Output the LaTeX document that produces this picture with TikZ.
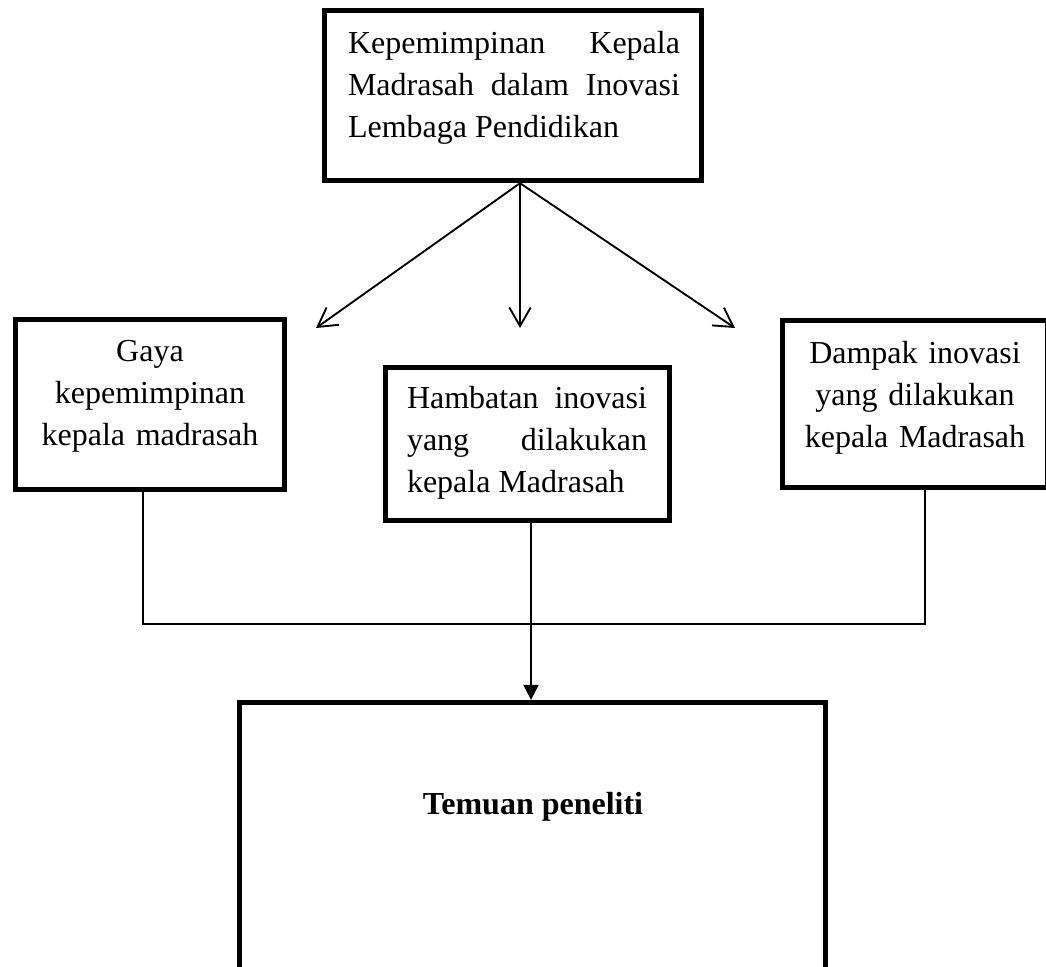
\documentclass[tikz,border=0pt]{standalone}
\usepackage{fontspec}
\setmainfont{Liberation Serif}
\usetikzlibrary{arrows.meta}
\hyphenpenalty=10000
\tolerance=10000

\begin{document}
\begin{tikzpicture}[
        x=0.375pt, y=-0.375pt,
        box/.style={draw, line width=2pt, inner sep=0pt},
        boxtext/.style={inner sep=0pt, anchor=north, font=\fontsize{12pt}{15.75pt}\selectfont},
        arrowline/.style={line width=0.7pt, -{Straight Barb[length=7pt, width=8pt]}},
        joinline/.style={line width=0.6pt},
        mainarrow/.style={line width=0.75pt, -{Triangle[length=5.6pt, width=5.6pt]}}
      ]
        \useasboundingbox (0,0) rectangle (1046,966);

        % boxes
        \node[box, minimum width=141.375pt, minimum height=63.75pt] (kepala) at (513,95.5) {};
        \node[box, minimum width=100.875pt, minimum height=63.75pt] (gaya) at (150,404.5) {};
        \node[box, minimum width=106.5pt, minimum height=57.375pt] (hambatan) at (527.5,444) {};
        \node[box, minimum width=99.375pt, minimum height=62.625pt] (dampak) at (915,404) {};
        \node[box, minimum width=219.75pt, minimum height=107.8pt] (temuan) at (532.5,846.25) {};

        % texts
        \node[boxtext, text width=124.5pt, align=justify] (kepalatext) at (514,31) {Kepemimpinan Kepala Madrasah dalam Inovasi Lembaga Pendidikan};
        \node[boxtext, text width=100pt, align=center] (gayatext) at (150,340) {Gaya\\kepemimpinan\\kepala madrasah};
        \node[boxtext, text width=90pt, align=justify] (hambatantext) at (527,386) {Hambatan inovasi yang dilakukan kepala Madrasah};
        \node[boxtext, text width=100pt, align=center] (dampaktext) at (915,341) {Dampak inovasi\\yang dilakukan\\kepala Madrasah};
        \node[boxtext, anchor=base, font=\fontsize{12pt}{15.75pt}\selectfont\bfseries] (temuantext) at (533,814) {Temuan peneliti};

        % connectors
        \coordinate (tipL) at (316,328);
        \coordinate (tipM) at (520,328);
        \coordinate (tipR) at (735,328);
        \coordinate (joinL) at (143,624);
        \coordinate (merge) at (531,624);
        \coordinate (joinR) at (925,624);

        \draw[arrowline] (kepala.south -| tipM) -- (tipL);
        \draw[arrowline] (kepala.south -| tipM) -- (tipM);
        \draw[arrowline] (kepala.south -| tipM) -- (tipR);

        \draw[joinline] (gaya.south -| joinL) -- (joinL) -- (joinR) -- (dampak.south -| joinR);
        \draw[mainarrow] (hambatan.south -| merge) -- (temuan.north -| merge);
      \end{tikzpicture}
\end{document}
